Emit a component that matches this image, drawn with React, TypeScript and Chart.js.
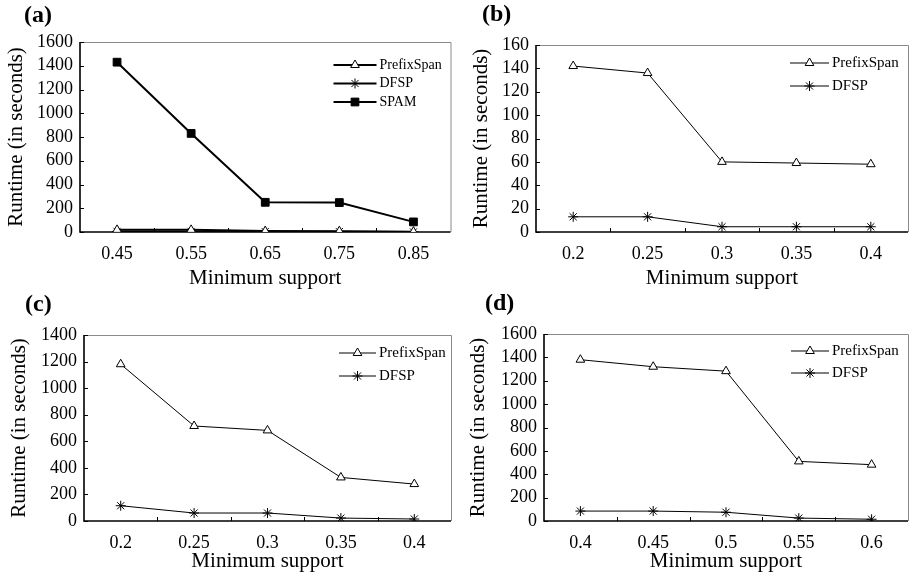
import React, { useEffect, useRef } from 'react';
import { Chart, registerables } from 'chart.js';
import { drawPoint } from 'chart.js/helpers';

Chart.register(...registerables);

const FONT = '"Liberation Serif", "Times New Roman", serif';

// ---- data ----
const supportA = ['0.45', '0.55', '0.65', '0.75', '0.85'];
const prefixA = [18, 18, 8, 7, 3];
const dfspA = [5, 5, 3, 3, 1];
const spamA = [1430, 830, 250, 248, 85];

const supportB = ['0.2', '0.25', '0.3', '0.35', '0.4'];
const prefixB = [142, 136, 60, 59, 58];
const dfspB = [13, 13, 4.5, 4.5, 4.5];

const supportC = ['0.2', '0.25', '0.3', '0.35', '0.4'];
const prefixC = [1180, 715, 682, 328, 278];
const dfspC = [115, 60, 60, 22, 15];

const supportD = ['0.4', '0.45', '0.5', '0.55', '0.6'];
const prefixD = [1380, 1320, 1282, 510, 482];
const dfspD = [85, 85, 75, 25, 15];

type Series = { name: string; values: number[]; style: string; radius: number; fill: string };
type Cfg = {
  tag: string;
  x: number; y: number; w: number; h: number;
  area: { left: number; right: number; top: number; bottom: number };
  labels: string[];
  series: Series[];
  yMax: number; yStep: number;
  lineWidth: number;
  yTitlePad: number; xTitlePad: number;
  tagX: number; tagY: number;
  legend: { fromRight: number; len: number; y0: number; gap: number; font: number };
};

const tri = (v: number[]): Series => ({ name: 'PrefixSpan', values: v, style: 'triangle', radius: 5, fill: '#fff' });
const star = (v: number[]): Series => ({ name: 'DFSP', values: v, style: 'star', radius: 5, fill: '#fff' });
const sq = (v: number[]): Series => ({ name: 'SPAM', values: v, style: 'rect', radius: 5.5, fill: '#000' });

const panels: Cfg[] = [
  {
    tag: '(a)', x: 0, y: 0, w: 457, h: 300,
    area: { left: 80, right: 452, top: 42, bottom: 232 },
    labels: supportA, series: [tri(prefixA), star(dfspA), sq(spamA)],
    yMax: 1600, yStep: 200, lineWidth: 2,
    yTitlePad: 4, xTitlePad: 9, tagX: 24, tagY: 16,
    legend: { fromRight: 117, len: 43, y0: 23, gap: 18.5, font: 14 },
  },
  {
    tag: '(b)', x: 457, y: 0, w: 457, h: 300,
    area: { left: 79, right: 452, top: 45, bottom: 232 },
    labels: supportB, series: [tri(prefixB), star(dfspB)],
    yMax: 160, yStep: 20, lineWidth: 1,
    yTitlePad: 12, xTitlePad: 9, tagX: 25, tagY: 15,
    legend: { fromRight: 118, len: 39, y0: 18, gap: 23, font: 15 },
  },
  {
    tag: '(c)', x: 0, y: 290, w: 457, h: 286,
    area: { left: 84, right: 452, top: 45, bottom: 231 },
    labels: supportC, series: [tri(prefixC), star(dfspC)],
    yMax: 1400, yStep: 200, lineWidth: 1,
    yTitlePad: 7, xTitlePad: 2, tagX: 25, tagY: 15,
    legend: { fromRight: 112, len: 37, y0: 18, gap: 23, font: 15 },
  },
  {
    tag: '(d)', x: 457, y: 290, w: 457, h: 286,
    area: { left: 87, right: 452, top: 44, bottom: 231 },
    labels: supportD, series: [tri(prefixD), star(dfspD)],
    yMax: 1600, yStep: 200, lineWidth: 1,
    yTitlePad: 9, xTitlePad: 2, tagX: 28, tagY: 14,
    legend: { fromRight: 117, len: 38, y0: 17, gap: 22, font: 15 },
  },
];

function Panel({ cfg }: { cfg: Cfg }) {
  const ref = useRef<HTMLCanvasElement>(null);
  useEffect(() => {
    const canvas = ref.current!;
    const framePlugin = {
      id: 'frame',
      beforeDatasetsDraw(chart: any) {
        const { ctx, chartArea } = chart;
        const { left, right, top, bottom } = chartArea;
        ctx.save();
        ctx.strokeStyle = '#8a8a8a';
        ctx.lineWidth = 1;
        ctx.beginPath();
        ctx.moveTo(left, top + 0.5);
        ctx.lineTo(right + 0.5, top + 0.5);
        ctx.lineTo(right + 0.5, bottom);
        ctx.stroke();
        ctx.strokeStyle = '#000';
        ctx.lineWidth = 1.6;
        ctx.beginPath();
        ctx.moveTo(left, top);
        ctx.lineTo(left, bottom);
        ctx.lineTo(right, bottom);
        ctx.stroke();
        ctx.lineWidth = 1;
        ctx.beginPath();
        const ys = chart.scales.y;
        ys.ticks.forEach((t: any) => {
          const p = Math.round(ys.getPixelForValue(t.value)) + 0.5;
          ctx.moveTo(left, p);
          ctx.lineTo(left + 4, p);
        });
        const xs = chart.scales.x;
        const n = chart.data.labels.length;
        for (let i = 0; i < n - 1; i++) {
          const p = Math.round((xs.getPixelForValue(i) + xs.getPixelForValue(i + 1)) / 2) + 0.5;
          ctx.moveTo(p, bottom);
          ctx.lineTo(p, bottom - 4);
        }
        ctx.stroke();
        ctx.restore();
      },
    };
    const decoPlugin = {
      id: 'deco',
      afterDraw(chart: any) {
        const { ctx, chartArea } = chart;
        const { right, top } = chartArea;
        ctx.save();
        ctx.fillStyle = '#000';
        ctx.font = `bold 24px ${FONT}`;
        ctx.textAlign = 'left';
        ctx.textBaseline = 'middle';
        ctx.fillText(cfg.tag, cfg.tagX, cfg.tagY);
        const lg = cfg.legend;
        chart.data.datasets.forEach((ds: any, i: number) => {
          const y = top + lg.y0 + i * lg.gap;
          const x0 = right - lg.fromRight;
          const x1 = x0 + lg.len;
          ctx.strokeStyle = '#000';
          ctx.lineWidth = ds.borderWidth;
          ctx.beginPath();
          ctx.moveTo(x0, y);
          ctx.lineTo(x1, y);
          ctx.stroke();
          ctx.lineWidth = 1;
          ctx.fillStyle = ds.pointBackgroundColor;
          ctx.strokeStyle = '#000';
          drawPoint(ctx, { pointStyle: ds.pointStyle, radius: ds.pointRadius, borderWidth: 1, rotation: 0 } as any, (x0 + x1) / 2, y);
          ctx.fillStyle = '#000';
          ctx.font = `${lg.font}px ${FONT}`;
          ctx.textAlign = 'left';
          ctx.textBaseline = 'middle';
          ctx.fillText(ds.label, x1 + 3, y);
        });
        ctx.restore();
      },
    };
    const tickFont = { family: FONT, size: 18 };
    const titleFont = { family: FONT, size: 21 };
    const chart = new Chart(canvas, {
      type: 'line',
      data: {
        labels: cfg.labels,
        datasets: cfg.series.map((s) => ({
          label: s.name,
          data: s.values,
          borderColor: '#000',
          borderWidth: cfg.lineWidth,
          pointStyle: s.style as any,
          pointRadius: s.radius,
          pointHoverRadius: s.radius,
          pointBackgroundColor: s.fill,
          pointBorderColor: '#000',
          pointBorderWidth: 1,
          tension: 0,
          fill: false,
        })),
      },
      options: {
        responsive: false,
        animation: false,
        events: [],
        layout: { padding: { left: 0, top: cfg.area.top, right: cfg.w - cfg.area.right, bottom: 0 } },
        plugins: {
          legend: { display: false },
          tooltip: { enabled: false },
          title: { display: false },
        },
        scales: {
          x: {
            type: 'category',
            offset: true,
            grid: { display: false, drawTicks: false },
            border: { display: false },
            ticks: { font: tickFont, color: '#000', padding: 11, maxRotation: 0, autoSkip: false },
            title: {
              display: true, text: 'Minimum support', font: titleFont, color: '#000',
              padding: { top: 0, bottom: cfg.xTitlePad },
            },
            afterFit: (s: any) => { s.height = cfg.h - cfg.area.bottom; },
          },
          y: {
            min: 0,
            max: cfg.yMax,
            grid: { display: false, drawTicks: false },
            border: { display: false },
            ticks: {
              stepSize: cfg.yStep, font: tickFont, color: '#000', padding: 7, autoSkip: false,
              callback: (v: any) => String(v),
            },
            title: {
              display: true, text: 'Runtime (in seconds)', font: titleFont, color: '#000',
              padding: { top: cfg.yTitlePad, bottom: 0 },
            },
            afterFit: (s: any) => { s.width = cfg.area.left; },
          },
        },
      } as any,
      plugins: [framePlugin, decoPlugin],
    });
    return () => chart.destroy();
  }, [cfg]);
  return (
    <div style={{ position: 'absolute', left: cfg.x, top: cfg.y, width: cfg.w, height: cfg.h }}>
      <canvas ref={ref} width={cfg.w} height={cfg.h} style={{ display: 'block' }} />
    </div>
  );
}

export default function App() {
  return (
    <div style={{ position: 'absolute', left: 0, top: 0, width: 914, height: 576, background: '#fff', overflow: 'hidden' }}>
      {panels.map((p) => (
        <Panel key={p.tag} cfg={p} />
      ))}
    </div>
  );
}
